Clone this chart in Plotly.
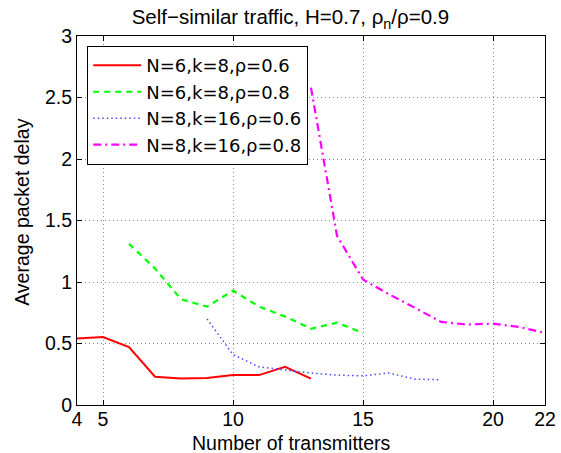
import plotly.graph_objects as go

x_red = [4, 5, 6, 7, 8, 9, 10, 11, 12, 13]
y_red = [0.54, 0.553, 0.47, 0.23, 0.215, 0.22, 0.243, 0.243, 0.31, 0.215]

x_green = [6, 7, 8, 9, 10, 11, 12, 13, 14, 15]
y_green = [1.31, 1.11, 0.86, 0.80, 0.93, 0.80, 0.72, 0.62, 0.67, 0.586]

x_blue = [9, 10, 11, 12, 13, 14, 15, 16, 17, 18]
y_blue = [0.70, 0.41, 0.31, 0.286, 0.26, 0.243, 0.237, 0.26, 0.21, 0.205]

x_mag = [13, 14, 15, 16, 17, 18, 19, 20, 21, 22]
y_mag = [2.58, 1.376, 1.02, 0.90, 0.79, 0.676, 0.654, 0.662, 0.635, 0.586]

names = ["N=6,k=8,ρ=0.6", "N=6,k=8,ρ=0.8", "N=8,k=16,ρ=0.6", "N=8,k=16,ρ=0.8"]

x_ticks = [4, 5, 10, 15, 20, 22]
y_ticks = [0, 0.5, 1, 1.5, 2, 2.5, 3]
y_ticklabels = ["0", "0.5", "1", "1.5", "2", "2.5", "3"]

title_text = "Self−similar traffic, H=0.7, ρ<sub>n</sub>/ρ=0.9"
x_title = "Number of transmitters"
y_title = "Average packet delay"

font = "Liberation Sans, Arial, Helvetica, sans-serif"

fig = go.Figure()
fig.add_trace(go.Scatter(x=x_red, y=y_red, mode="lines", name=names[0],
                         line=dict(color="#ff0000", width=2, dash="solid")))
fig.add_trace(go.Scatter(x=x_green, y=y_green, mode="lines", name=names[1],
                         line=dict(color="#00ff00", width=2.2, dash="6px,5px")))
fig.add_trace(go.Scatter(x=x_blue, y=y_blue, mode="lines", name=names[2],
                         line=dict(color="#4a4aff", width=1.5, dash="1.5px,3px")))
fig.add_trace(go.Scatter(x=x_mag, y=y_mag, mode="lines", name=names[3],
                         line=dict(color="#ff00ff", width=2.2, dash="8px,4px,2px,4px")))

fig.update_layout(
    width=561, height=453,
    margin=dict(l=77, r=16, t=36, b=48, autoexpand=False),
    paper_bgcolor="white", plot_bgcolor="white",
    font=dict(family=font, size=19, color="black"),
    title=dict(text=title_text, xref="paper", x=0.456, xanchor="center",
               yref="container", y=0.962, yanchor="middle",
               font=dict(size=20.5)),
    showlegend=True,
    legend=dict(x=0.0215, y=0.973, xanchor="left", yanchor="top",
                bordercolor="black", borderwidth=1.2, bgcolor="white",
                font=dict(size=18, family="DejaVu Sans, Liberation Sans, sans-serif"),
                tracegroupgap=0, itemwidth=48),
    xaxis=dict(range=[4, 22], tickmode="array", tickvals=x_ticks,
               ticktext=[str(v) for v in x_ticks], automargin=False,
               ticks="inside", ticklen=5, tickcolor="black", ticklabelstandoff=-4,
               showline=True, linecolor="black", linewidth=1.2, mirror="ticks",
               showgrid=True, gridcolor="#888888", griddash="1px,3px", gridwidth=1,
               zeroline=False, tickfont=dict(size=19.5)),
    yaxis=dict(range=[0, 3], tickmode="array", tickvals=y_ticks,
               ticktext=y_ticklabels, automargin=False,
               ticks="inside", ticklen=5, tickcolor="black",
               showline=True, linecolor="black", linewidth=1.2, mirror="ticks",
               showgrid=True, gridcolor="#888888", griddash="1px,3px", gridwidth=1,
               zeroline=False, tickfont=dict(size=19.5)),
    annotations=[
        dict(text=x_title, xref="paper", yref="paper", x=0.459, y=-0.103,
             xanchor="center", yanchor="middle", showarrow=False, font=dict(size=19.5)),
        dict(text=y_title, xref="paper", yref="paper", x=-0.118, y=0.523,
             xanchor="center", yanchor="middle", textangle=-90, showarrow=False,
             font=dict(size=19.5)),
    ],
)

fig.write_html("out.html", config={"displayModeBar": False},
               post_script="document.body.style.margin='0';document.body.style.padding='0';")
